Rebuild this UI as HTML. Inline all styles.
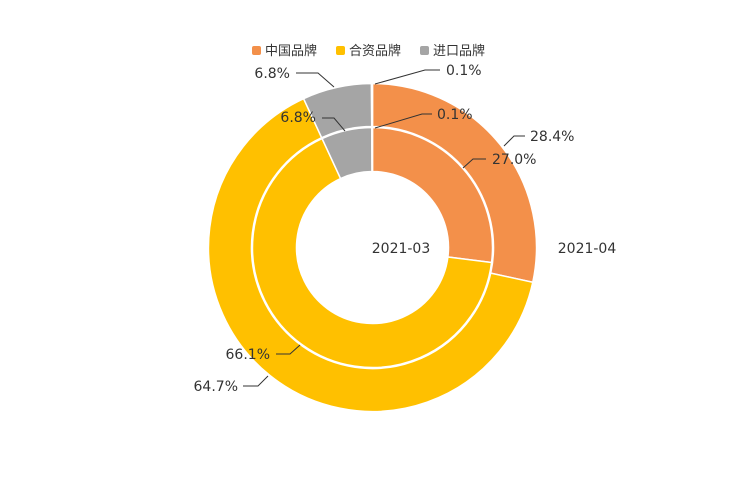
<!DOCTYPE html>
<html><head><meta charset="utf-8"><style>
body{margin:0;background:#fff;}
svg text{font-family:"DejaVu Sans","Noto Sans CJK SC",sans-serif;font-size:14px;fill:#333;}
svg text.lg{font-size:13px;}
</style></head><body>
<svg id="s" width="744" height="496" xmlns="http://www.w3.org/2000/svg">
<g id="pies"></g>
<g>
<rect x="252" y="46" width="9" height="9" rx="2" fill="#F3904A"/><text class="lg" x="265" y="55">中国品牌</text>
<rect x="336" y="46" width="9" height="9" rx="2" fill="#FFC000"/><text class="lg" x="349" y="55">合资品牌</text>
<rect x="420" y="46" width="9" height="9" rx="2" fill="#A5A5A5"/><text class="lg" x="433" y="55">进口品牌</text>
</g>
<g fill="none" stroke="#333" stroke-width="1">
<polyline points="375,84 425,70 440,70"/>
<polyline points="334,87 318,73 296,73"/>
<polyline points="504,146 514,136 525,136"/>
<polyline points="463,168 473,159 486,159"/>
<polyline points="375,128 422,114 432,114"/>
<polyline points="345,131 334,118 322,118"/>
<polyline points="300,345 290,354 276,354"/>
<polyline points="268,376 258,386 243,386"/>
</g>
<text x="446" y="75">0.1%</text>
<text x="290" y="78" text-anchor="end">6.8%</text>
<text x="530" y="141">28.4%</text>
<text x="492" y="164">27.0%</text>
<text x="437" y="119">0.1%</text>
<text x="316" y="122" text-anchor="end">6.8%</text>
<text x="270" y="359" text-anchor="end">66.1%</text>
<text x="238" y="391" text-anchor="end">64.7%</text>
<text x="401" y="253" text-anchor="middle">2021-03</text>
<text x="587" y="253" text-anchor="middle">2021-04</text>
</svg>
<script>
var cx=372.5,cy=247.5,g=document.getElementById('pies');
var cols=['#F3904A','#FFC000','#A5A5A5','#A5A5A5'];
function ring(vals,r0,r1){var a=0;vals.forEach(function(v,i){var b=a+v/100*2*Math.PI;
function p(r,t){return [cx+r*Math.sin(t),cy-r*Math.cos(t)];}
var l=(b-a)>Math.PI?1:0,A=p(r1,a),B=p(r1,b),C=p(r0,b),D=p(r0,a);
var d='M'+A+' A'+r1+','+r1+' 0 '+l+' 1 '+B+' L'+C+' A'+r0+','+r0+' 0 '+l+' 0 '+D+'Z';
var e=document.createElementNS('http://www.w3.org/2000/svg','path');e.setAttribute('d',d);e.setAttribute('fill',cols[i]);e.setAttribute('stroke','#fff');e.setAttribute('stroke-width','1.5');g.appendChild(e);a=b;});}
ring([28.4,64.7,6.8,0.1],121,164);
ring([27.0,66.1,6.8,0.1],76,120);
</script>
</body></html>
